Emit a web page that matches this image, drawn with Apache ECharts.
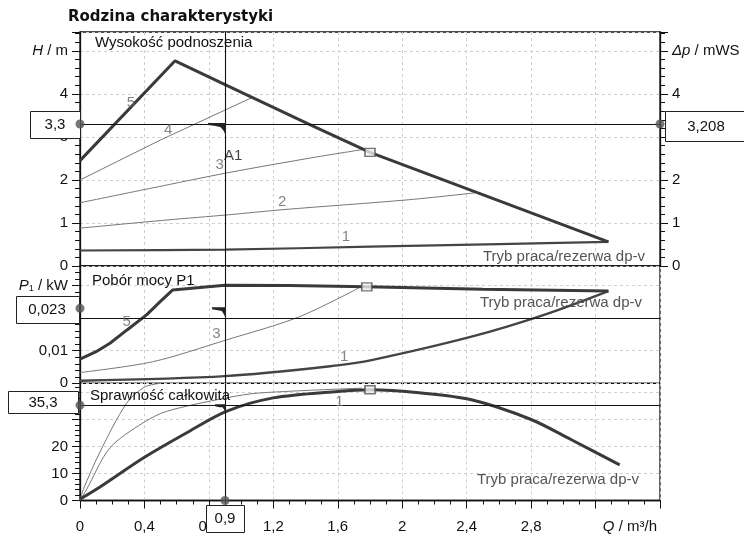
<!DOCTYPE html>
<html><head><meta charset="utf-8">
<script src="https://cdn.jsdelivr.net/npm/echarts@6/dist/echarts.min.js"></script>
<style>html,body{margin:0;padding:0;background:#fff}#c{width:744px;height:537px}</style>
</head><body><div id="c"></div>
<script>
// ---------- data ----------
const qMax = 3.6;                       // Q / m3/h axis end
const headMax = 5.44, powerMax = 0.036, effMax = 43.4;
const qLabelTicks = [0, 0.4, 0.8, 1.2, 1.6, 2, 2.4, 2.8];

// Wysokość podnoszenia  H / m
const headCurve5 = [[0,2.45],[0.59,4.77],[0.92,4.18],[1.42,3.3],[1.80,2.64],[2.47,1.70],[3.28,0.56]];
const headCurve4 = [[0,2.0],[0.5,2.93],[1.07,3.92]];
const headCurve3 = [[0,1.47],[0.43,1.80],[0.92,2.17],[1.46,2.53],[1.76,2.71]];
const headCurve2 = [[0,0.88],[0.54,1.07],[0.92,1.19],[1.26,1.31],[2.04,1.54],[2.45,1.70]];
const headCurve1 = [[0,0.36],[0.9,0.38],[1.8,0.45],[2.6,0.51],[3.28,0.56]];

// Pobór mocy P1  P1 / kW
const powerCurve5 = [[0,0.0074],[0.1,0.0097],[0.186,0.0123],[0.29,0.0163],[0.413,0.021],[0.496,0.025],[0.574,0.0286],[0.9,0.0301],[1.3,0.0300],[1.78,0.0296],[2.5,0.0289],[3.28,0.0283]];
const powerCurve3 = [[0,0.0033],[0.45,0.0066],[0.908,0.0133],[1.36,0.0204],[1.74,0.0295]];
const powerCurve1 = [[0,0.0008],[0.9,0.0022],[1.6,0.0055],[1.81,0.0071],[2.43,0.0143],[2.88,0.021],[3.28,0.0283]];

// Sprawność całkowita  eta / %
const effCurve1 = [[0,0.5],[0.124,5],[0.4,16],[0.66,25],[0.908,33],[1.2,38],[1.6,40.4],[1.8,41],[2.12,39.8],[2.43,37.3],[2.8,30],[3.05,22.5],[3.35,13.2]];
const effCurve3 = [[0,0],[0.04,4],[0.186,19.5],[0.39,28.7],[0.537,33],[0.908,38],[1.11,39.8],[1.75,41.6]];
const effCurve5 = [[0,0],[0.02,4],[0.124,18],[0.289,36],[0.4,42],[0.5,43.4]];

// operating point A1
const opQ = 0.9, opH = 3.3, opDp = 3.208, opP = 0.023, opEta = 35.3;
// duty points (squares)
const dutyHead = [1.8, 2.64], dutyPower = [1.78, 0.0296], dutyEff = [1.8, 41];

// curve number labels [text, Q, value]
const headLabels = [['5',0.316,3.8],['4',0.547,3.17],['3',0.867,2.36],['2',1.255,1.5],['1',1.65,0.67]];
const headPointLabel = [['A1',0.95,2.55]];
const powerLabels = [['5',0.29,0.0189],['3',0.846,0.0153],['1',1.64,0.0082]];
const effLabels = [['1',1.61,36.7]];

// ---------- chart ----------
const FONT = '"Liberation Sans", Arial, "DejaVu Sans", sans-serif';
const fmt = v => String(v).replace('.', ',');
const near = (a, b, e) => Math.abs(a - b) < e;
const thick = {color:'#3a3a3a', width:3};
const mid = {color:'#444', width:2.2};
const thin = {color:'#777', width:1};

const gridCommon = {left:80, width:580, show:true, borderColor:'#111', borderWidth:1.3, backgroundColor:'#fff'};
const splitL = {show:true, lineStyle:{color:'#cfcfcf', type:[3,3], width:1}};

function xAx(i, visible) {
  return {
    type:'value', gridIndex:i, min:0, max:qMax, interval:0.4,
    axisLine:{show:visible, lineStyle:{color:'#111', width:1.3}},
    axisTick:{show:visible, length:8, lineStyle:{color:'#111'}},
    minorTick:{show:visible, splitNumber:4, length:4, lineStyle:{color:'#111'}},
    axisLabel:{show:visible, margin:19, fontSize:15, fontFamily:FONT, color:'#111', showMaxLabel:false,
      formatter: v => { const r = Math.round(v*10)/10;
        return qLabelTicks.some(t => near(t, r, 1e-6)) ? fmt(r) : ''; }},
    splitLine:splitL
  };
}
function yAx(i, max, interval, formatter, pos) {
  return {
    type:'value', gridIndex:i, min:0, max, interval, position:pos||'left',
    axisLine:{show:true, lineStyle:{color:'#111', width:1.3}},
    axisTick:{show:true, length:8, lineStyle:{color:'#111'}},
    minorTick:{show:true, splitNumber:5, length:5, lineStyle:{color:'#111'}},
    axisLabel:{margin:12, fontSize:15, fontFamily:FONT, color:'#111', formatter,
      rich:{i:{fontStyle:'italic', fontSize:15, fontFamily:FONT, color:'#111'},
            s:{fontSize:9, fontFamily:FONT, color:'#111', verticalAlign:'bottom', padding:[6,0,0,0]},
            n:{fontSize:15, fontFamily:FONT, color:'#111'}}},
    splitLine: pos === 'right' ? {show:false} : splitL
  };
}

function line(data, xi, yi, style, smooth) {
  return {type:'line', xAxisIndex:xi, yAxisIndex:yi, data, showSymbol:false, silent:true,
    smooth: smooth ? 0.3 : false, lineStyle:style, z:3};
}
function refLines(xi, yi, yVal) {
  return {type:'line', xAxisIndex:xi, yAxisIndex:yi, data:[], silent:true, z:4,
    markLine:{silent:true, symbol:['none','none'], label:{show:false}, animation:false,
      lineStyle:{color:'#111', width:1.1, type:'solid'},
      data:[{yAxis:yVal},{xAxis:opQ}]}};
}
function textSeries(list, xi, yi, color) {
  return {type:'scatter', xAxisIndex:xi, yAxisIndex:yi, symbolSize:1, silent:true, clip:false, z:8,
    itemStyle:{color:'rgba(0,0,0,0)'},
    data:list.map(([t,x,y]) => ({name:t, value:[x,y]})),
    label:{show:true, position:'inside', formatter:'{b}', color, fontSize:15, fontFamily:FONT}};
}
// value box anchored at a data point; dx,dy = box centre offset (px), w,h = box size (px)
function boxSeries(xi, yi, pt, text, dx, dy, w, h) {
  return {type:'custom', xAxisIndex:xi, yAxisIndex:yi, data:[pt], silent:true, clip:false, zlevel:1, z:8,
    renderItem:(params, api) => {
      const p = api.coord([api.value(0), api.value(1)]);
      const cx = p[0] + dx, cy = p[1] + dy;
      return {type:'group', children:[
        {type:'rect', shape:{x:Math.round(cx - w/2)+0.5, y:Math.round(cy - h/2)+0.5, width:w, height:h},
          style:{fill:'#fff', stroke:'#222', lineWidth:1}, z2:1},
        {type:'text', x:cx, y:cy+0.5, z2:2,
          style:{text, fill:'#111', font:'15px '+FONT, align:'center', verticalAlign:'middle'}}
      ]};
    }};
}
function markerSeries(xi, yi, pts) {
  return {type:'scatter', xAxisIndex:xi, yAxisIndex:yi, symbol:'circle', symbolSize:9, silent:true, clip:false, zlevel:1, z:9,
    itemStyle:{color:'#555'}, data:pts.map(p => ({value:p}))};
}
function squareSeries(xi, yi, pt) {
  return {type:'scatter', xAxisIndex:xi, yAxisIndex:yi, symbol:'rect', symbolSize:[10,8], silent:true, z:6,
    itemStyle:{color:'#eee', borderColor:'#555', borderWidth:1.5}, data:[{value:pt}]};
}
function wedgeSeries(xi, yi, pt, w, h) {
  return {type:'custom', xAxisIndex:xi, yAxisIndex:yi, data:[pt], silent:true, z:7, clip:false,
    renderItem:(params, api) => {
      const p = api.coord([api.value(0), api.value(1)]);
      const x = p[0], y = p[1];
      return {type:'polygon', shape:{points:[[x-w,y-1],[x+1,y-1],[x+1,y+h],[x-1,y+h*0.55],[x-w*0.25,y+h*0.25],[x-w*0.55,y+2],[x-w,y+1]]},
        style:{fill:'#222'}};
    }};
}

const option = {
  animation:false,
  backgroundColor:'#fff',
  grid:[
    Object.assign({top:32, height:234}, gridCommon),
    Object.assign({top:266, height:117.3}, gridCommon),
    Object.assign({top:383.3, height:117.2}, gridCommon)
  ],
  xAxis:[xAx(0,false), xAx(1,false), xAx(2,true)],
  yAxis:[
    yAx(0, headMax, 1, v => near(v,5,1e-6) ? '{i|H}{n| / m}' : (near(v,Math.round(v),1e-6) && v<5 ? String(Math.round(v)) : '')),
    yAx(0, headMax, 1, v => near(v,5,1e-6) ? '{i|Δp}{n| / mWS}' : (near(v,Math.round(v),1e-6) && v<5 && !near(v,3,1e-6) ? String(Math.round(v)) : ''), 'right'),
    yAx(1, powerMax, 0.01, v => { const r = Math.round(v*1000)/1000;
        if (near(r,0.03,1e-6)) return '{i|P}{s|1}{n| / kW}';
        if (r > 0.03) return '';
        return fmt(r); }),
    yAx(2, effMax, 10, v => { const r = Math.round(v); return (r <= 20 && near(v,r,1e-6)) ? String(r) : ''; })
  ],
  graphic:[
    {type:'text', x:68, y:17, style:{text:'Rodzina charakterystyki', font:'bold 15px "DejaVu Sans", sans-serif', fill:'#111', align:'left', verticalAlign:'middle'}},
    {type:'text', x:95, y:43, z:20, style:{text:'Wysokość podnoszenia', font:'15px '+FONT, fill:'#111', align:'left', verticalAlign:'middle'}},
    {type:'text', x:92, y:281, z:20, style:{text:'Pobór mocy P1', font:'15px '+FONT, fill:'#111', align:'left', verticalAlign:'middle'}},
    {type:'text', x:90, y:396, z:20, style:{text:'Sprawność całkowita', font:'15px '+FONT, fill:'#111', align:'left', verticalAlign:'middle'}},
    {type:'text', x:645, y:257, z:20, style:{text:'Tryb praca/rezerwa dp-v', font:'15px '+FONT, fill:'#555', align:'right', verticalAlign:'middle'}},
    {type:'text', x:642, y:303, z:20, style:{text:'Tryb praca/rezerwa dp-v', font:'15px '+FONT, fill:'#555', align:'right', verticalAlign:'middle'}},
    {type:'text', x:639, y:480, z:20, style:{text:'Tryb praca/rezerwa dp-v', font:'15px '+FONT, fill:'#555', align:'right', verticalAlign:'middle'}},
    {type:'text', x:657, y:527, z:20, style:{text:'{i|Q}{n| / m³/h}', align:'right', verticalAlign:'middle',
      rich:{i:{fontStyle:'italic', fontSize:15, fontFamily:FONT, fill:'#111'}, n:{fontSize:15, fontFamily:FONT, fill:'#111'}}}}
  ],
  series:[
    // head panel
    line(headCurve1, 0, 0, mid, true),
    line(headCurve2, 0, 0, thin, true),
    line(headCurve3, 0, 0, thin, true),
    line(headCurve4, 0, 0, thin, false),
    line(headCurve5, 0, 0, thick, false),
    refLines(0, 0, opH),
    squareSeries(0, 0, dutyHead),
    wedgeSeries(0, 0, [opQ, opH], 17, 13),
    textSeries(headLabels, 0, 0, '#666'),
    textSeries(headPointLabel, 0, 0, '#111'),
    boxSeries(0, 0, [0, opH], fmt(opH), -25, 0, 50, 27),
    boxSeries(0, 0, [qMax, opH], fmt(opDp), 46, 2, 82, 30),
    markerSeries(0, 0, [[0, opH], [qMax, opH]]),
    // power panel
    line(powerCurve1, 1, 2, {color:'#444', width:2.4}, true),
    line(powerCurve3, 1, 2, thin, true),
    line(powerCurve5, 1, 2, thick, false),
    refLines(1, 2, opP),
    squareSeries(1, 2, dutyPower),
    wedgeSeries(1, 2, [opQ, opP], 13, 11),
    textSeries(powerLabels, 1, 2, '#666'),
    boxSeries(1, 2, [0, opP], fmt(opP), -33, 1, 63, 27),
    markerSeries(1, 2, [[0, opP]]),
    // efficiency panel
    line(effCurve5, 2, 3, thin, true),
    line(effCurve3, 2, 3, thin, true),
    line(effCurve1, 2, 3, thick, true),
    refLines(2, 3, opEta),
    squareSeries(2, 3, dutyEff),
    wedgeSeries(2, 3, [opQ, opEta], 10, 8),
    textSeries(effLabels, 2, 3, '#666'),
    boxSeries(2, 3, [0, opEta], fmt(opEta), -37, -3, 70, 22),
    boxSeries(2, 3, [opQ, 0], fmt(opQ), 0, 18, 38, 27),
    markerSeries(2, 3, [[0, opEta], [opQ, 0]])
  ]
};
const chart = echarts.init(document.getElementById('c'), null, {renderer:'canvas'});
chart.setOption(option);
</script>
</body></html>
